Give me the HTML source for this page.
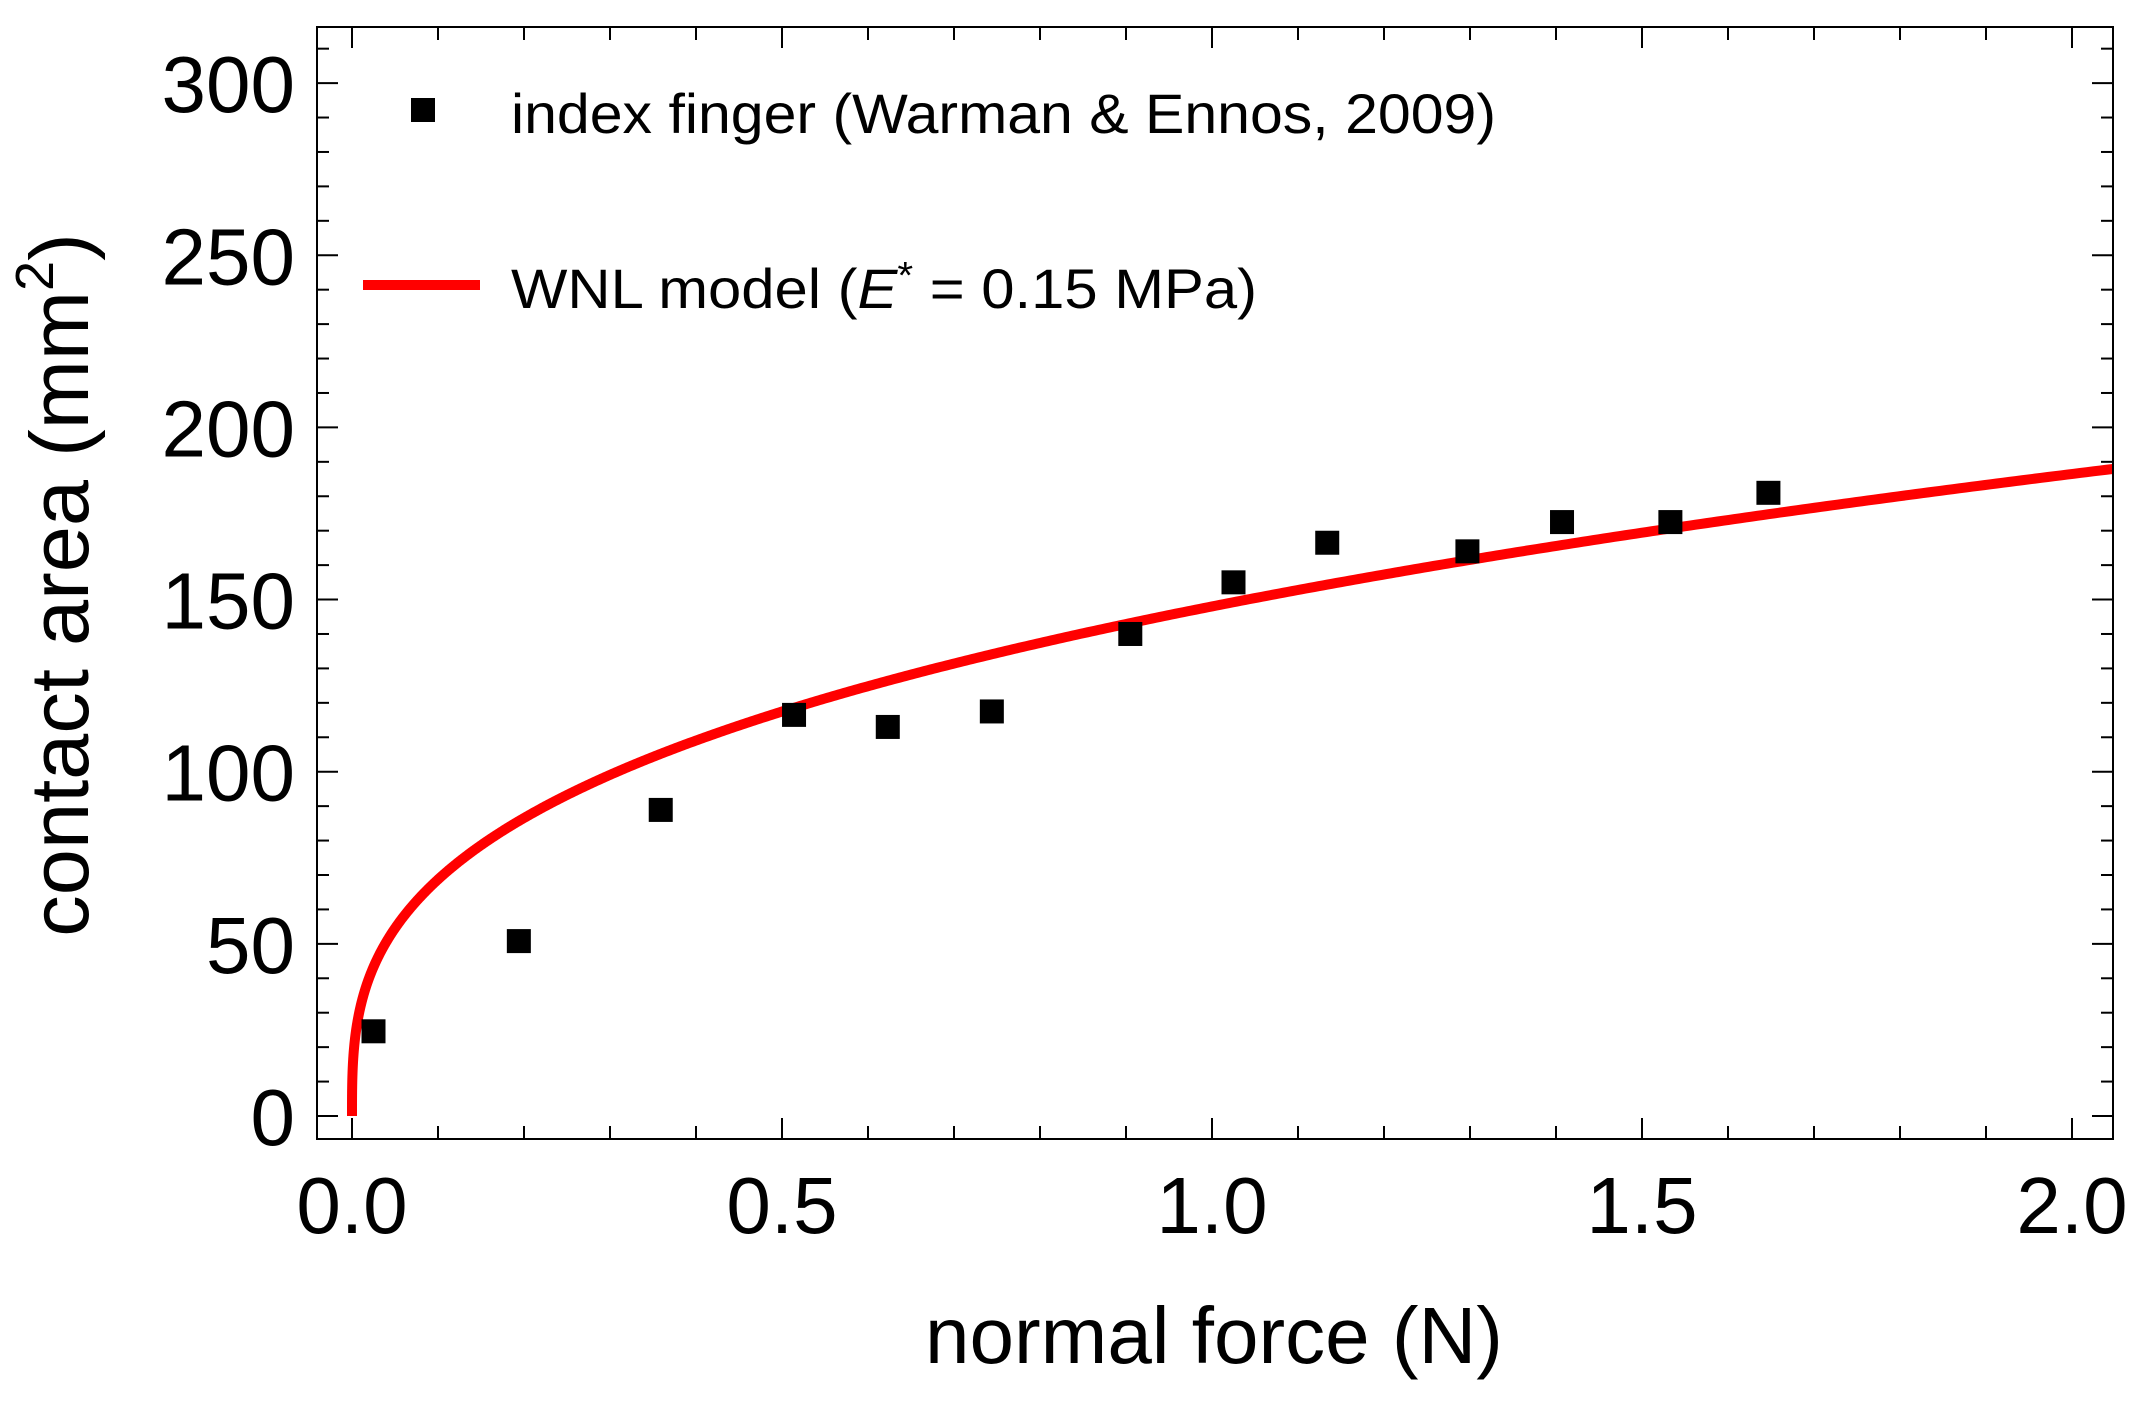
<!DOCTYPE html>
<html><head><meta charset="utf-8"><style>
html,body{margin:0;padding:0;background:#fff;}
svg{display:block;font-family:"Liberation Sans",Arial,sans-serif;}
</style></head><body>
<svg id="chart" width="2149" height="1402" viewBox="0 0 2149 1402" xmlns="http://www.w3.org/2000/svg">
<rect x="0" y="0" width="2149" height="1402" fill="#fff"/>
<g id="ticks"></g>
<g id="ticklabels"></g>
<g id="series"></g>
<rect x="317" y="27" width="1796" height="1112" fill="none" stroke="#000" stroke-width="2"/>
<text x="1214" y="1363" font-size="80" text-anchor="middle">normal force (N)</text>
<text transform="translate(88,585) rotate(-90)" font-size="83" text-anchor="middle">contact area (mm<tspan font-size="54" dy="-35">2</tspan><tspan dy="35">)</tspan></text>
<g>
<rect x="411" y="98" width="24" height="24" fill="#000"/>
<text x="511" y="133" font-size="56" textLength="985" lengthAdjust="spacingAndGlyphs">index finger (Warman &amp; Ennos, 2009)</text>
<line x1="363" y1="285" x2="480" y2="285" stroke="#f00" stroke-width="10"/>
<text x="511" y="308" font-size="56" textLength="746" lengthAdjust="spacingAndGlyphs">WNL model (<tspan font-style="italic">E</tspan><tspan font-size="38" dy="-20">*</tspan><tspan dy="20"> = 0.15 MPa)</tspan></text>
</g>
</svg>
<script>
const forceN = [0.025, 0.194, 0.359, 0.514, 0.623, 0.744, 0.905, 1.025, 1.134, 1.297, 1.407, 1.533, 1.647];
const areaMm2 = [24.6, 50.8, 88.9, 116.5, 113, 117.5, 140, 155, 166.5, 164, 172.5, 172.5, 181];
const modelCoef = [148];
const modelExp = [1/3];
const xTickLabels = ["0.0","0.5","1.0","1.5","2.0"];
const yTickLabels = ["0","50","100","150","200","250","300"];

const X0=352, XS=860, Y0=1116, YS=3.443;
const L=317, R=2113, T=27, B=1139;
function sx(v){return X0+v*XS;}
function sy(v){return Y0-v*YS;}
const NS="http://www.w3.org/2000/svg";
function mk(tag, attrs, parent){const e=document.createElementNS(NS,tag);for(const k in attrs)e.setAttribute(k,attrs[k]);parent.appendChild(e);return e;}
const ticks=document.getElementById('ticks');
const labs=document.getElementById('ticklabels');
const series=document.getElementById('series');

for(let i=0; i<=20; i++){
  const v=i/10, x=sx(v); if(x<L||x>R) continue;
  const len=(i%5===0)?21:13;
  const t1=mk('line',{x1:x,y1:B,x2:x,y2:B-len,stroke:'#000','stroke-width':2},ticks);
  
  
  const t2=mk('line',{x1:x,y1:T,x2:x,y2:T+len,stroke:'#000','stroke-width':2},ticks);
  
  
}
for(let i=0;i<=31;i++){
  const v=i*10, y=sy(v); if(y<T||y>B) continue;
  const len=(i%5===0)?21:12;
  const t1=mk('line',{x1:L,y1:y,x2:L+len,y2:y,stroke:'#000','stroke-width':2},ticks);
  
  
  const t2=mk('line',{x1:R,y1:y,x2:R-len,y2:y,stroke:'#000','stroke-width':2},ticks);
  
  
}
xTickLabels.forEach(s=>{
  const t=mk('text',{x:sx(parseFloat(s)),y:1233,'font-size':80,'text-anchor':'middle'},labs);
  t.textContent=s;
  
  
});
yTickLabels.forEach(s=>{
  const t=mk('text',{x:295,y:sy(parseFloat(s))+29,'font-size':80,'text-anchor':'end'},labs);
  t.textContent=s;
  
  
});
let d='';
const xmax=(R-X0)/XS;
for(let i=0;i<=800;i++){
  const f=Math.pow(i/800,3)*xmax;
  const a=modelCoef[0]*Math.pow(f,modelExp[0]);
  d+=(i?'L':'M')+sx(f).toFixed(2)+','+sy(a).toFixed(2);
}
const clip=mk('clipPath',{id:'pc'},document.getElementById('chart'));
mk('rect',{x:L,y:T,width:R-L,height:B-T},clip);
const path=mk('path',{d:d,fill:'none',stroke:'#f00','stroke-width':10,'clip-path':'url(#pc)'},series);


forceN.forEach((f,i)=>{
  const r=mk('rect',{x:sx(f)-12,y:sy(areaMm2[i])-12,width:24,height:24,fill:'#000'},series);
  
  
});
</script>
</body></html>
